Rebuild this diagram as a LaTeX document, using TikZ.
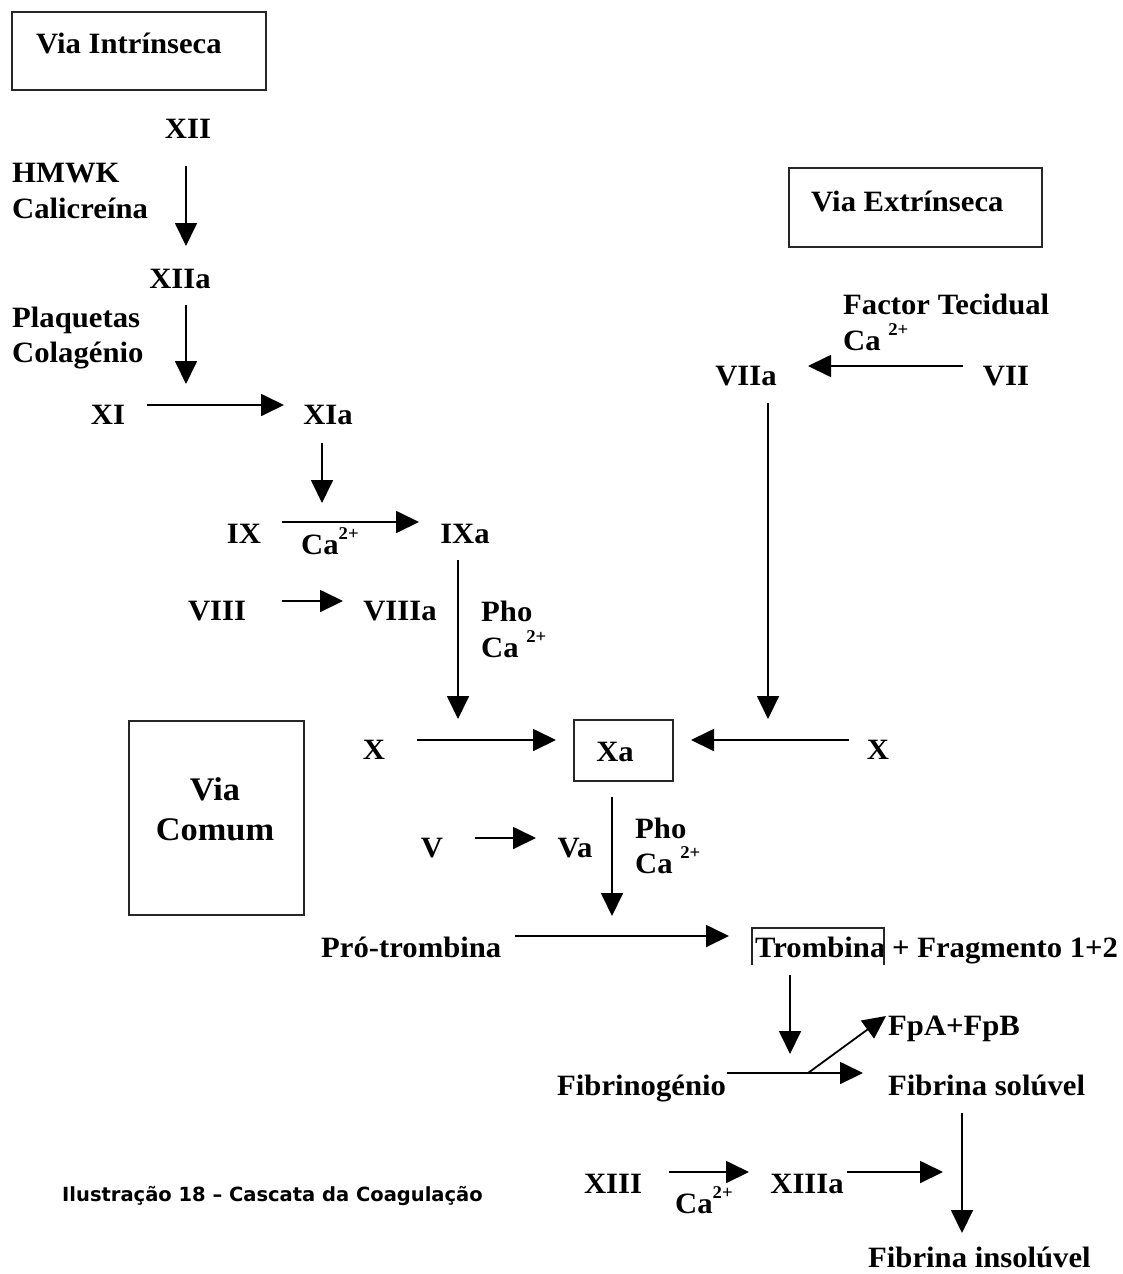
\documentclass[tikz,border=0pt]{standalone}
\usepackage{fontspec}
\setmainfont{Liberation Serif}[FakeStretch=1.04]
\newfontfamily\capfont{DejaVu Sans}
\usetikzlibrary{arrows.meta}
\newcommand{\spx}[1]{\raisebox{0.5em}{\fontsize{18}{20}\selectfont #1}}
\begin{document}
\begin{tikzpicture}[x=1pt,y=-1pt,
  lbl/.style={font=\fontsize{29.5}{34}\selectfont\bfseries, inner sep=0pt},
  big/.style={font=\fontsize{33}{38}\selectfont\bfseries, inner sep=0pt},
  arr/.style={line width=1.8pt, -{Triangle[length=23pt,width=22pt]}},
  frame/.style={draw=black!85, line width=1.8pt, inner sep=0pt, anchor=north west}]
\useasboundingbox (0,0) rectangle (1123,1274);

% boxes
\node[frame, minimum width=254pt, minimum height=78pt] (vibox) at (11,11) {};
\node[frame, minimum width=253pt, minimum height=79pt] (vebox) at (788,167) {};
\node[frame, minimum width=175pt, minimum height=194pt] (vcbox) at (128,720) {};
\node[frame, minimum width=99pt, minimum height=61pt] (xabox) at (573,719) {};

% texts
\node[lbl, anchor=base west] (vi) at (36,53) {Via Intrínseca};
\node[lbl, anchor=base west] (ve) at (811,211) {Via Extrínseca};
\node[big, anchor=base] (via) at (215,800) {Via};
\node[big, anchor=base] (comum) at (215,840) {Comum};

\node[lbl, anchor=base] (XII) at (188,138) {XII};
\node[lbl, anchor=base west] (hmwk) at (12,182) {HMWK};
\node[lbl, anchor=base west] (cal) at (12,218) {Calicreína};
\node[lbl, anchor=base] (XIIa) at (180,288) {XIIa};
\node[lbl, anchor=base west] (plaq) at (12,327) {Plaquetas};
\node[lbl, anchor=base west] (colag) at (12,362) {Colagénio};
\node[lbl, anchor=base] (XI) at (108,424) {XI};
\node[lbl, anchor=base] (XIa) at (328,424) {XIa};
\node[lbl, anchor=base] (IX) at (244,543) {IX};
\node[lbl, anchor=base west] (ca1) at (301,554) {Ca\spx{2+}};
\node[lbl, anchor=base] (IXa) at (465,543) {IXa};
\node[lbl, anchor=base] (VIII) at (217,620) {VIII};
\node[lbl, anchor=base] (VIIIa) at (400,620) {VIIIa};
\node[lbl, anchor=base west] (pho1) at (481,621) {Pho};
\node[lbl, anchor=base west] (ca2) at (481,657) {Ca \spx{2+}};

\node[lbl, anchor=base west] (ft) at (843,314) {Factor Tecidual};
\node[lbl, anchor=base west] (ca3) at (843,350) {Ca \spx{2+}};
\node[lbl, anchor=base] (VIIa) at (746,385) {VIIa};
\node[lbl, anchor=base] (VII) at (1006,385) {VII};

\node[lbl, anchor=base] (Xl) at (374,759) {X};
\node[lbl, anchor=base] (Xa) at (615,761) {Xa};
\node[lbl, anchor=base] (Xr) at (878,759) {X};

\node[lbl, anchor=base] (V) at (432,857) {V};
\node[lbl, anchor=base] (Va) at (575,857) {Va};
\node[lbl, anchor=base west] (pho2) at (635,838) {Pho};
\node[lbl, anchor=base west] (ca4) at (635,873) {Ca \spx{2+}};

\node[lbl, anchor=base west] (pro) at (321,957) {Pró-trombina};
\node[lbl, anchor=base west] (tromb) at (755,957) {Trombina};
\node[lbl, anchor=base west] (frag) at (892,957) {+ Fragmento 1+2};

\node[lbl, anchor=base west] (fpa) at (888,1035) {FpA+FpB};
\node[lbl, anchor=base west] (fibg) at (557,1095) {Fibrinogénio};
\node[lbl, anchor=base west] (fibs) at (888,1095) {Fibrina solúvel};

\node[lbl, anchor=base] (XIII) at (613,1193) {XIII};
\node[lbl, anchor=base west] (ca5) at (675,1213) {Ca\spx{2+}};
\node[lbl, anchor=base] (XIIIa) at (807,1193) {XIIIa};
\node[lbl, anchor=base west] (fibi) at (868,1267) {Fibrina insolúvel};

\node[anchor=base west, inner sep=0pt, font=\capfont\fontsize{19.5}{22}\selectfont\bfseries] (cap) at (62,1201) {Ilustração 18 – Cascata da Coagulação};

% partial box around Trombina
\draw[black!85, line width=1.5pt] (752,965) -- (752,928) -- (884,928) -- (884,965);

% arrow end points
\coordinate (a1s) at (186,166);  \coordinate (a1e) at (186,246);
\coordinate (a2s) at (186,305);  \coordinate (a2e) at (186,384);
\coordinate (a3s) at (147,405);  \coordinate (a3e) at (284,405);
\coordinate (a4s) at (322,443);  \coordinate (a4e) at (322,503);
\coordinate (a5s) at (282,522);  \coordinate (a5e) at (419,522);
\coordinate (a6s) at (282,601);  \coordinate (a6e) at (343,601);
\coordinate (a7s) at (458,560);  \coordinate (a7e) at (458,719);
\coordinate (a8s) at (417,740);  \coordinate (a8e) at (556,740);
\coordinate (a9s) at (849,740);  \coordinate (a9e) at (691,740);
\coordinate (a10s) at (963,366); \coordinate (a10e) at (808,366);
\coordinate (a11s) at (768,403); \coordinate (a11e) at (768,719);
\coordinate (a12s) at (612,797); \coordinate (a12e) at (612,916);
\coordinate (a13s) at (475,838); \coordinate (a13e) at (536,838);
\coordinate (a14s) at (515,936); \coordinate (a14e) at (729,936);
\coordinate (a15s) at (790,975); \coordinate (a15e) at (790,1054);
\coordinate (a16s) at (727,1073); \coordinate (a16e) at (863,1073);
\coordinate (a17s) at (808,1073); \coordinate (a17e) at (886,1016);
\coordinate (a18s) at (962,1113); \coordinate (a18e) at (962,1233);
\coordinate (a19s) at (669,1172); \coordinate (a19e) at (749,1172);
\coordinate (a20s) at (847,1172); \coordinate (a20e) at (943,1172);

\foreach \i in {1,...,20} {\draw[arr] (a\i s) -- (a\i e);}
\end{tikzpicture}
\end{document}
